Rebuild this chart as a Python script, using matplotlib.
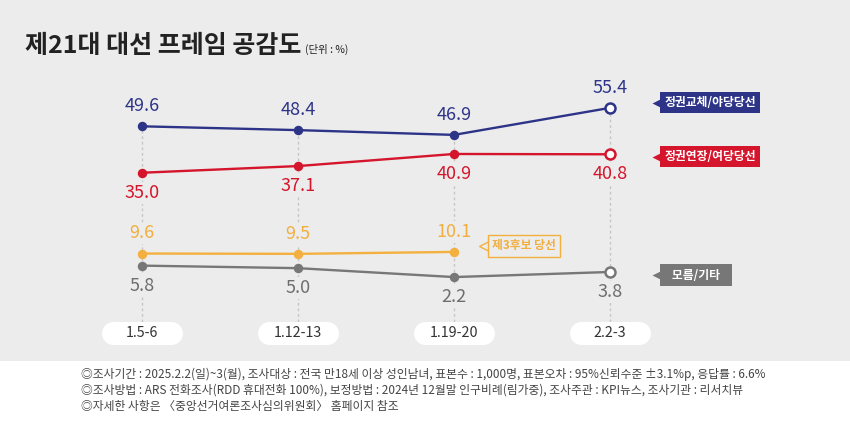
import numpy as np
import matplotlib.pyplot as plt
from matplotlib.patches import Rectangle
from matplotlib.transforms import offset_copy

plt.rcParams['font.family'] = ['Noto Sans CJK KR', 'DejaVu Sans']

# survey data (unit: %)
periods = ['1.5-6', '1.12-13', '1.19-20', '2.2-3']
change = [49.6, 48.4, 46.9, 55.4]    # 정권교체/야당당선
extend = [35.0, 37.1, 40.9, 40.8]    # 정권연장/여당당선
third = [9.6, 9.5, 10.1]             # 제3후보 당선
unknown = [5.8, 5.0, 2.2, 3.8]       # 모름/기타

bg = '#ececec'
fig = plt.figure(figsize=(8.5, 4.25), dpi=100, facecolor=bg)
# white footer strip
fig.patches.append(Rectangle((0, 0), 1, 0.151, transform=fig.transFigure,
                             fc='white', ec='none', zorder=0))

ax = fig.add_axes([0, 0, 1, 1])
ax.set_xlim(-0.9103, 4.5385)
ax.set_ylim(-44.31, 89.31)
ax.axis('off')
ax.patch.set_visible(False)

x = np.arange(len(periods))
pill_y = -15.5

# dotted guides from the top point down to the date pills
tops = [max(change[i], extend[i], unknown[i]) for i in range(len(periods))]
ax.vlines(x, pill_y, tops, colors='#c6c6c6', linewidth=1,
          linestyles=(0, (2, 2)), zorder=1)

# date pills
for i, p in enumerate(periods):
    ax.plot([i - 0.183, i + 0.183], [pill_y, pill_y], color='white', lw=16.6,
            solid_capstyle='round', zorder=2)
    ax.text(i, pill_y, p, ha='center', va='center', fontsize=10.3,
            color='#333333', zorder=3)

# values, colour, text colour, label side, legend name, legend box offset
series = [
    (change, '#2d3488', '#2d3488', 1, '정권교체/야당당선', 3.6),
    (extend, '#d5152b', '#d5152b', -1, '정권연장/여당당선', -1.8),
    (third, '#f4b03e', '#f2ae3e', 1, '제3후보 당선', 4.3),
    (unknown, '#777777', '#6e6e6e', -1, '모름/기타', -2.2),
]

for vals, col, tcol, side, name, dy in series:
    xs = x[:len(vals)]
    ax.plot(xs, vals, color=col, lw=1.7, zorder=4)
    hollow_last = len(vals) == len(periods)
    n_fill = len(vals) - 1 if hollow_last else len(vals)
    ax.plot(xs[:n_fill], vals[:n_fill], 'o', color=col, ms=5.8, zorder=5)
    if hollow_last:
        ax.plot(xs[-1], vals[-1], 'o', mfc='white', mec=col, mew=1.8,
                ms=7.2, zorder=5)
    for xi, v in zip(xs, vals):
        ax.annotate(f'{v:.1f}', (xi, v), xytext=(0, 14.5 * side),
                    textcoords='offset points', ha='center', va='center',
                    fontsize=13, color=tcol, zorder=6,
                    bbox=dict(boxstyle='square,pad=0.1', fc=bg, ec='none'))

    # legend tag at the series end
    outline = name == '제3후보 당선'
    dx = 24.5 if outline else 36
    tag = name if name != '모름/기타' else '   모름/기타   '
    tri = offset_copy(ax.transData, fig=fig, x=dx - 2.5, y=dy, units='points')
    if outline:
        ax.plot(xs[-1], vals[-1], '<', ms=8, mfc=bg, mec=col, mew=1,
                transform=tri, zorder=6)
        ax.annotate(tag, (xs[-1], vals[-1]), xytext=(dx + 3, dy),
                    textcoords='offset points', ha='left', va='center',
                    fontsize=8.5, fontweight='bold', color=tcol, zorder=7,
                    bbox=dict(boxstyle='square,pad=0.35', fc=bg, ec=col, lw=1))
    else:
        ax.plot(xs[-1], vals[-1], '<', ms=7.5, color=col, mec='none',
                transform=tri, zorder=6)
        ax.annotate(tag, (xs[-1], vals[-1]), xytext=(dx + 3, dy),
                    textcoords='offset points', ha='left', va='center',
                    fontsize=8.5, fontweight='bold', color='white', zorder=7,
                    bbox=dict(boxstyle='square,pad=0.35', fc=col, ec='none'))

# title
fig.text(25 / 850, 1 - 53 / 425, '제21대 대선 프레임 공감도', fontsize=18,
         fontweight='bold', color='#222222', ha='left', va='baseline')
fig.text(305 / 850, 1 - 53 / 425, '(단위 : %)', fontsize=7.5, color='#222222',
         ha='left', va='baseline')

# footnotes
notes = [
    '◎조사기간 : 2025.2.2(일)~3(월), 조사대상 : 전국 만18세 이상 성인남녀, 표본수 : 1,000명, 표본오차 : 95%신뢰수준 ±3.1%p, 응답률 : 6.6%',
    '◎조사방법 : ARS 전화조사(RDD 휴대전화 100%), 보정방법 : 2024년 12월말 인구비례(림가중), 조사주관 : KPI뉴스, 조사기관 : 리서치뷰',
    '◎자세한 사항은 〈중앙선거여론조사심의위원회〉 홈페이지 참조',
]
for k, line in enumerate(notes):
    fig.text(81 / 850, 1 - (374 + 16.4 * k) / 425, line, fontsize=8.5,
             color='#444444', ha='left', va='center')

fig.savefig('out.png', dpi=100, facecolor=bg)
